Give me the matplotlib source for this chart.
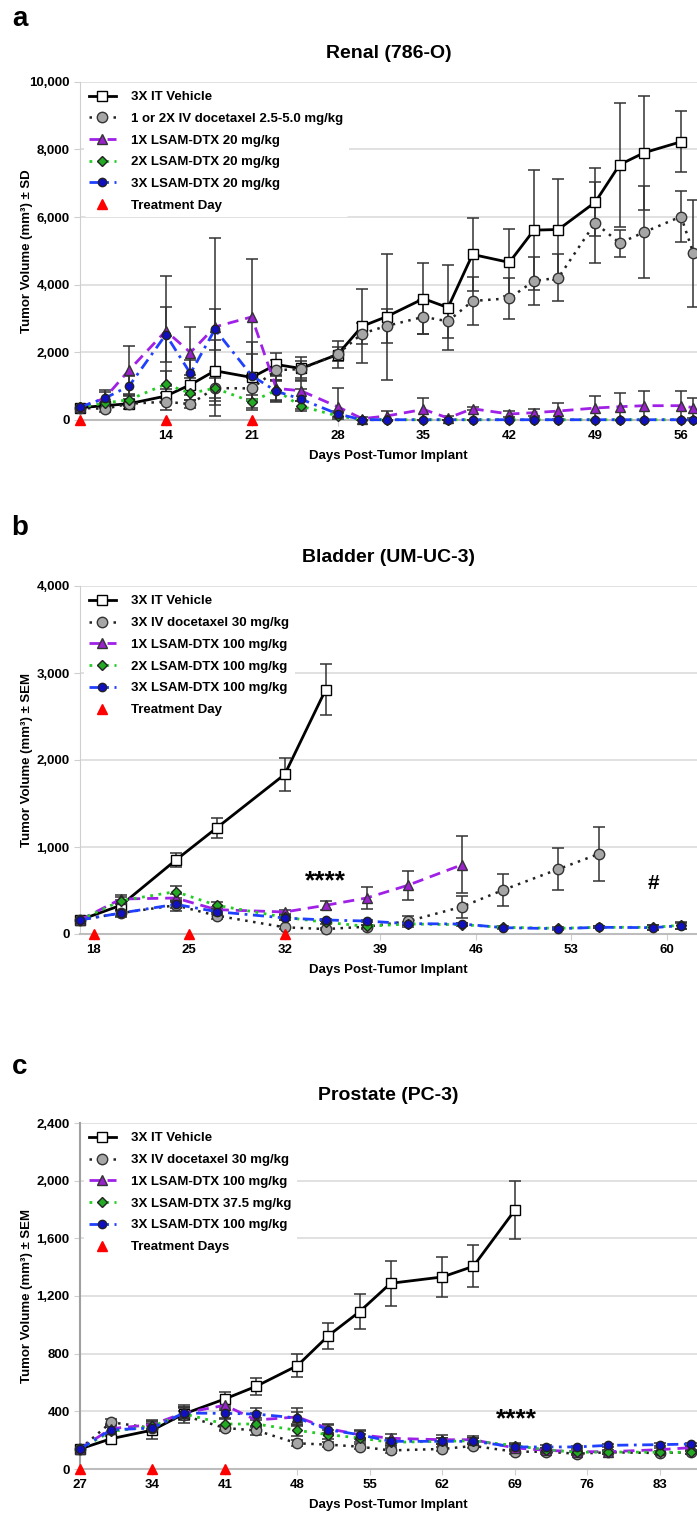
import numpy as np
import matplotlib.pyplot as plt
from matplotlib.ticker import StrMethodFormatter

plt.rcParams['font.family'] = ['Liberation Sans Narrow', 'Liberation Sans', 'DejaVu Sans']
plt.rcParams['font.weight'] = 'bold'

# ---------------- panel a: Renal (786-O) ----------------
days_a_veh = [7, 9, 11, 14, 16, 18, 21, 23, 25, 28, 30, 32, 35, 37, 39, 42, 44, 46, 49, 51, 53, 56]
veh_a = [364, 423, 482, 708, 1042, 1455, 1258, 1641, 1523, 1936, 2771, 3056, 3587, 3322, 4894, 4658,
         5612, 5631, 6437, 7549, 7902, 8225]
veh_a_err = [60, 80, 60, 200, 300, 900, 700, 350, 350, 400, 1100, 1860, 1050, 1260, 1080, 1000,
             1770, 1500, 1000, 1830, 1680, 900]

days_a = [7, 9, 11, 14, 16, 18, 21, 23, 25, 28, 30, 32, 35, 37, 39, 42, 44, 46, 49, 51, 53, 56, 57]
doc_a = [360, 330, 480, 540, 470, 943, 934, 1474, 1504, 1946, 2555, 2781, 3047, 2919, 3518, 3597,
         4108, 4206, 5828, 5229, 5553, 6015, 4934]
doc_a_err = [60, 80, 150, 250, 120, 500, 300, 300, 250, 200, 300, 500, 500, 500, 700, 600,
             700, 700, 1200, 400, 1350, 740, 1580]
lsam1_a = [380, 640, 1474, 2634, 1995, 2752, 3047, 934, 865, 393, 40, 118, 314, 59, 334, 177,
           216, 265, 354, 393, 423, 423, 364]
lsam1_a_err = [80, 250, 700, 1630, 760, 2630, 1720, 400, 300, 560, 50, 150, 350, 50, 50, 100,
               100, 250, 350, 400, 420, 420, 300]
lsam2_a = [380, 500, 600, 1060, 790, 940, 540, 880, 410, 120, 8, 8, 8, 8, 8, 8, 8, 8, 8, 8, 8, 8, 8]
lsam2_a_err = [60, 100, 150, 400, 200, 300, 200, 300, 150, 80, 5, 5, 5, 5, 5, 5, 5, 5, 5, 5, 5, 5, 5]
lsam3_a = [380, 640, 1002, 2526, 1376, 2680, 1310, 850, 620, 180, 8, 8, 8, 8, 8, 8, 8, 8, 8, 8, 8, 8, 8]
lsam3_a_err = [80, 200, 300, 820, 400, 600, 1000, 300, 300, 100, 5, 5, 5, 5, 5, 5, 5, 5, 5, 5, 5, 5, 5]
treat_a = [7, 14, 21]
labels_a = ['3X IT Vehicle', '1 or 2X IV docetaxel 2.5-5.0 mg/kg', '1X LSAM-DTX 20 mg/kg',
            '2X LSAM-DTX 20 mg/kg', '3X LSAM-DTX 20 mg/kg', 'Treatment Day']

# ---------------- panel b: Bladder (UM-UC-3) ----------------
days_b_veh = [17, 20, 24, 27, 32, 35]
veh_b = [161, 330, 847, 1218, 1835, 2809]
veh_b_err = [15, 60, 80, 115, 190, 295]
days_b_doc = [17, 20, 24, 27, 32, 35, 38, 41, 45, 48, 52, 55]
doc_b = [161, 241, 330, 211, 77, 57, 84, 146, 314, 506, 743, 920]
doc_b_err = [15, 40, 60, 40, 15, 15, 25, 60, 125, 185, 240, 310]
days_b_l1 = [17, 20, 24, 27, 32, 35, 38, 41, 45]
lsam1_b = [161, 402, 414, 280, 253, 330, 414, 559, 797]
lsam1_b_err = [15, 50, 50, 30, 20, 50, 130, 170, 330]
days_b = [17, 20, 24, 27, 32, 35, 38, 41, 45, 48, 52, 55, 59, 61]
lsam2_b = [161, 383, 487, 330, 192, 134, 88, 115, 107, 77, 65, 77, 77, 100]
lsam2_b_err = [15, 40, 70, 40, 30, 20, 15, 15, 15, 10, 10, 10, 30, 40]
lsam3_b = [161, 241, 341, 257, 184, 161, 149, 119, 115, 73, 61, 77, 73, 96]
lsam3_b_err = [15, 30, 40, 30, 20, 15, 15, 15, 15, 10, 10, 10, 25, 35]
treat_b = [18, 25, 32]
labels_b = ['3X IT Vehicle', '3X IV docetaxel 30 mg/kg', '1X LSAM-DTX 100 mg/kg',
            '2X LSAM-DTX 100 mg/kg', '3X LSAM-DTX 100 mg/kg', 'Treatment Day']

# ---------------- panel c: Prostate (PC-3) ----------------
days_c_veh = [27, 30, 34, 37, 41, 44, 48, 51, 54, 57, 62, 65, 69]
veh_c = [139, 210, 270, 381, 486, 573, 717, 925, 1091, 1288, 1332, 1406, 1795]
veh_c_err = [20, 30, 60, 60, 50, 60, 80, 90, 120, 155, 140, 145, 200]
days_c = [27, 30, 34, 37, 41, 44, 48, 51, 54, 57, 62, 65, 69, 72, 75, 78, 83, 86]
doc_c = [139, 324, 284, 372, 284, 268, 178, 169, 155, 129, 139, 160, 120, 120, 106, 116, 111, 116]
doc_c_err = [20, 20, 30, 30, 20, 30, 20, 15, 15, 15, 15, 15, 15, 15, 10, 10, 10, 10]
lsam1_c = [139, 280, 308, 388, 442, 340, 361, 280, 238, 213, 203, 203, 146, 130, 120, 120, 134, 148]
lsam1_c_err = [20, 30, 30, 40, 30, 50, 60, 30, 30, 30, 30, 25, 20, 15, 15, 15, 15, 15]
lsam375_c = [139, 261, 296, 384, 312, 312, 268, 238, 215, 185, 192, 196, 162, 134, 116, 118, 116, 116]
lsam375_c_err = [20, 30, 30, 40, 40, 40, 40, 30, 25, 25, 20, 20, 20, 15, 10, 10, 10, 10]
lsam3_c = [139, 272, 284, 388, 386, 381, 354, 272, 238, 192, 192, 192, 153, 153, 153, 164, 169, 173]
lsam3_c_err = [20, 30, 30, 40, 40, 40, 40, 30, 25, 25, 20, 20, 20, 15, 10, 10, 10, 10]
treat_c = [27, 34, 41]
labels_c = ['3X IT Vehicle', '3X IV docetaxel 30 mg/kg', '1X LSAM-DTX 100 mg/kg',
            '3X LSAM-DTX 37.5 mg/kg', '3X LSAM-DTX 100 mg/kg', 'Treatment Days']

# line styles: vehicle, docetaxel, 1X, 2X(37.5), 3X
STY = [
    dict(color='black', ls='-', lw=2.0, marker='s', ms=7.5, mfc='white', mec='black'),
    dict(color='#222222', ls=(0, (1, 2.2)), lw=1.8, marker='o', ms=7.5, mfc='#a6a6a6', mec='#333333'),
    dict(color='#a020e8', ls=(0, (4, 2.5)), lw=2.0, marker='^', ms=7, mfc='#9a22cc', mec='#333333'),
    dict(color='#22cc22', ls=(0, (1, 2)), lw=2.0, marker='D', ms=5, mfc='#22aa22', mec='#222222'),
    dict(color='#2040ff', ls=(0, (4, 2, 1, 2)), lw=2.0, marker='o', ms=6, mfc='#1010c0', mec='#222222'),
]

W, H = 697, 1517
fig = plt.figure(figsize=(W / 100, H / 100), dpi=100)


def make_axes(top_px, bottom_px):
    return fig.add_axes([80 / W, 1 - bottom_px / H, 617 / W, (bottom_px - top_px) / H])


def draw(ax, series, treat, labels, xlim, xticks, ylim, yticks, ylab, title):
    # series: list of (x, y, err) in legend order
    handles = [None] * 5
    order = [1, 3, 4, 2, 0]
    for i in order:
        x, y, e = series[i]
        s = STY[i]
        ax.errorbar(x, y, yerr=e, fmt='none', ecolor='#333333', elinewidth=1.1, capsize=4,
                    capthick=1.1, zorder=3 + i * 0.1)
        h, = ax.plot(x, y, linestyle=s['ls'], color=s['color'], lw=s['lw'], marker=s['marker'],
                     ms=s['ms'], mfc=s['mfc'], mec=s['mec'], mew=1.0, zorder=4 + i * 0.1,
                     clip_on=False)
        handles[i] = h
    th, = ax.plot(treat, np.zeros(len(treat)), linestyle='none', marker='^', color='red', ms=7,
                  clip_on=False, zorder=10)
    handles.append(th)

    ax.set_xlim(*xlim)
    ax.set_ylim(*ylim)
    ax.set_xticks(xticks)
    ax.set_yticks(yticks)
    ax.yaxis.set_major_formatter(StrMethodFormatter('{x:,.0f}'))
    ax.grid(axis='y', color='#dcdcdc', lw=1.2, zorder=0)
    for sp in ['top', 'right']:
        ax.spines[sp].set_visible(False)
    ax.spines['left'].set_color('#cfcfcf')
    ax.spines['bottom'].set_color('#bdbdbd')
    ax.spines['bottom'].set_linewidth(1.5)
    ax.tick_params(axis='both', colors='#cfcfcf', labelcolor='black', labelsize=9.5, length=4)
    for t in ax.get_xticklabels() + ax.get_yticklabels():
        t.set_fontweight('bold')
    ax.set_ylabel('Tumor Volume (mm³) ± ' + ylab, fontsize=9.5, fontweight='bold')
    ax.yaxis.set_label_coords(-47 / 617, 0.5)
    ax.set_xlabel('Days Post-Tumor Implant', fontsize=9.5, fontweight='bold')
    h_ax = ax.get_position().height * H
    ax.xaxis.set_label_coords(0.5, -30 / h_ax)
    ax.text(0.5, 1 + 28 / h_ax, title, transform=ax.transAxes, ha='center', va='center',
            fontsize=14, fontweight='bold')
    leg = ax.legend(handles, labels, loc='upper left', bbox_to_anchor=(0.0, 1.0), frameon=True,
                    facecolor='white', edgecolor='none', framealpha=1, fontsize=9.5,
                    handlelength=2.0, handletextpad=1.2, labelspacing=0.72, borderpad=0.4,
                    numpoints=1, borderaxespad=0.3)
    leg.set_zorder(20)
    for t in leg.get_texts():
        t.set_fontweight('bold')
    return ax


ax_a = make_axes(81.7, 420)
draw(ax_a,
     [(days_a_veh, veh_a, veh_a_err), (days_a, doc_a, doc_a_err), (days_a, lsam1_a, lsam1_a_err),
      (days_a, lsam2_a, lsam2_a_err), (days_a, lsam3_a, lsam3_a_err)],
     treat_a, labels_a, (7, 57.3), [14, 21, 28, 35, 42, 49, 56], (0, 10000),
     [0, 2000, 4000, 6000, 8000, 10000], 'SD', 'Renal (786-O)')

ax_b = make_axes(586, 934)
draw(ax_b,
     [(days_b_veh, veh_b, veh_b_err), (days_b_doc, doc_b, doc_b_err),
      (days_b_l1, lsam1_b, lsam1_b_err), (days_b, lsam2_b, lsam2_b_err),
      (days_b, lsam3_b, lsam3_b_err)],
     treat_b, labels_b, (17, 62.2), [18, 25, 32, 39, 46, 53, 60], (0, 4000),
     [0, 1000, 2000, 3000, 4000], 'SEM', 'Bladder (UM-UC-3)')
ax_b.text(35, 610, '****', ha='center', va='center', fontsize=19, fontweight='bold')
ax_b.text(59, 580, '#', ha='center', va='center', fontsize=15, fontweight='bold')

ax_c = make_axes(1123, 1469)
draw(ax_c,
     [(days_c_veh, veh_c, veh_c_err), (days_c, doc_c, doc_c_err), (days_c, lsam1_c, lsam1_c_err),
      (days_c, lsam375_c, lsam375_c_err), (days_c, lsam3_c, lsam3_c_err)],
     treat_c, labels_c, (27, 86.6), [27, 34, 41, 48, 55, 62, 69, 76, 83], (0, 2400),
     [0, 400, 800, 1200, 1600, 2000, 2400], 'SEM', 'Prostate (PC-3)')
ax_c.text(69.2, 345, '****', ha='center', va='center', fontsize=19, fontweight='bold')
ax_c.spines['left'].set_color('#a0a0a0')
ax_c.spines['left'].set_linewidth(1.5)

for letter, y in [('a', 19), ('b', 528), ('c', 1067)]:
    fig.text(20 / W, 1 - y / H, letter, ha='center', va='center', fontsize=20, fontweight='bold')

fig.savefig('out.png', dpi=100)
